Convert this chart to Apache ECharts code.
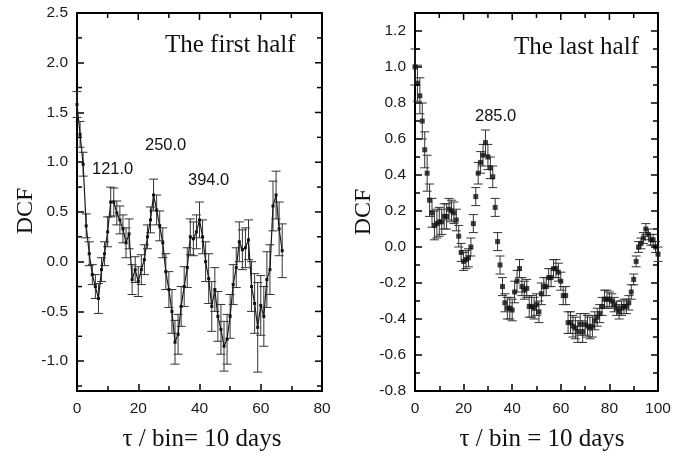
<!DOCTYPE html>
<html>
<head>
<meta charset="utf-8">
<script src="https://cdn.jsdelivr.net/npm/echarts@6/dist/echarts.min.js"></script>
<style>html,body{margin:0;padding:0;background:#fff}#c{width:694px;height:462px}</style>
</head>
<body>
<div id="c"></div>
<script>
// ---- Data: first half (lag in bins, DCF, error) ----
const firstTau = [0,1,2,3,4,5,6,7,8,9,10,11,12,13,14,15,16,17,18,19,20,21,22,23,24,25,26,27,28,29,30,31,32,33,34,35,36,37,38,39,40,41,42,43,44,45,46,47,48,49,50,51,52,53,54,55,56,57,58,59,60,61,62,63,64,65,66,67];
const firstDCF = [1.58,1.28,0.98,0.36,0.08,-0.13,-0.25,-0.37,-0.08,0.08,0.30,0.60,0.60,0.49,0.42,0.33,0.19,0.28,-0.18,-0.08,-0.20,-0.08,0.02,0.25,0.42,0.67,0.52,0.36,0.19,-0.10,-0.28,-0.50,-0.81,-0.73,-0.45,-0.25,-0.06,0.25,0.23,0.30,0.42,0.25,0.00,-0.17,-0.45,-0.28,-0.55,-0.68,-0.85,-0.78,-0.55,-0.23,-0.06,0.20,0.12,0.14,0.22,-0.25,-0.42,-0.66,-0.44,-0.55,-0.18,-0.08,0.56,0.67,0.33,0.11];
const firstErr = [0.13,0.13,0.12,0.12,0.12,0.10,0.12,0.15,0.12,0.12,0.15,0.15,0.14,0.12,0.14,0.14,0.15,0.15,0.15,0.13,0.15,0.15,0.15,0.12,0.13,0.16,0.15,0.15,0.15,0.18,0.18,0.22,0.22,0.20,0.20,0.20,0.20,0.18,0.17,0.17,0.18,0.17,0.20,0.25,0.25,0.22,0.25,0.25,0.25,0.25,0.22,0.20,0.20,0.20,0.20,0.20,0.20,0.25,0.30,0.45,0.30,0.30,0.28,0.25,0.25,0.24,0.27,0.27];

// ---- Data: last half ----
const lastTau = [0,1,2,3,4,5,6,7,8,9,10,11,12,13,14,15,16,17,18,19,20,21,22,23,24,25,26,27,28,29,30,31,32,33,34,35,36,37,38,39,40,41,42,43,44,45,46,47,48,49,50,51,52,53,54,55,56,57,58,59,60,61,62,63,64,65,66,67,68,69,70,71,72,73,74,75,76,77,78,79,80,81,82,83,84,85,86,87,88,89,90,91,92,93,94,95,96,97,98,99,100];
const lastDCF = [1.00,0.91,0.84,0.70,0.54,0.41,0.26,0.19,0.12,0.13,0.14,0.14,0.17,0.17,0.21,0.20,0.19,0.15,0.06,-0.03,-0.08,-0.07,-0.06,0.00,0.13,0.28,0.41,0.47,0.51,0.58,0.50,0.44,0.39,0.22,0.03,-0.10,-0.22,-0.31,-0.34,-0.34,-0.35,-0.25,-0.19,-0.12,-0.22,-0.24,-0.23,-0.33,-0.33,-0.34,-0.32,-0.36,-0.26,-0.22,-0.22,-0.17,-0.17,-0.12,-0.12,-0.14,-0.19,-0.27,-0.27,-0.42,-0.42,-0.44,-0.45,-0.47,-0.43,-0.47,-0.43,-0.44,-0.45,-0.44,-0.41,-0.39,-0.37,-0.33,-0.29,-0.29,-0.29,-0.30,-0.32,-0.34,-0.36,-0.34,-0.33,-0.33,-0.31,-0.25,-0.18,-0.08,0.00,0.02,0.05,0.10,0.07,0.04,0.04,0.00,-0.04];
const lastErr = [0.10,0.10,0.10,0.10,0.10,0.10,0.09,0.08,0.08,0.08,0.08,0.07,0.07,0.07,0.06,0.06,0.06,0.06,0.06,0.05,0.05,0.05,0.05,0.05,0.05,0.05,0.06,0.06,0.06,0.07,0.07,0.06,0.06,0.05,0.05,0.05,0.05,0.05,0.06,0.06,0.06,0.06,0.06,0.05,0.05,0.05,0.05,0.06,0.06,0.06,0.06,0.06,0.06,0.05,0.05,0.05,0.05,0.05,0.05,0.05,0.05,0.05,0.05,0.06,0.06,0.06,0.06,0.06,0.06,0.06,0.06,0.06,0.06,0.06,0.05,0.05,0.05,0.05,0.05,0.05,0.04,0.04,0.04,0.04,0.04,0.04,0.04,0.04,0.04,0.04,0.03,0.03,0.03,0.03,0.03,0.03,0.03,0.03,0.03,0.03,0.04];

// ---- Tick values ----
const firstYTicks = [-1.0,-0.5,0.0,0.5,1.0,1.5,2.0,2.5];
const firstYMinor = [-1.25,-0.75,-0.25,0.25,0.75,1.25,1.75,2.25];
const firstXTicks = [0,20,40,60,80];
const firstXMinor = [10,30,50,70];
const lastYTicks = [-0.8,-0.6,-0.4,-0.2,0.0,0.2,0.4,0.6,0.8,1.0,1.2];
const lastYMinor = [-0.7,-0.5,-0.3,-0.1,0.1,0.3,0.5,0.7,0.9,1.1];
const lastXTicks = [0,20,40,60,80,100];
const lastXMinor = [10,30,50,70,90];

const SANS = 'Liberation Sans, Arial, sans-serif';
const SERIF = 'Liberation Serif, Times New Roman, serif';
const TXT = '#1a1a1a';

function yAx(grid, ticks, min, max) {
  return {
    type: 'value', gridIndex: grid, position: 'left', min: min, max: max,
    axisLine: {show: false, onZero: false}, splitLine: {show: false},
    axisTick: {show: true, inside: true, length: 7, customValues: ticks, lineStyle: {color: '#000', width: 1.5}},
    axisLabel: {show: true, customValues: ticks, margin: 9, fontFamily: SANS, fontSize: 15.5, color: TXT,
      formatter: v => v.toFixed(1)}
  };
}
function xAx(grid, max) {
  return {
    type: 'value', gridIndex: grid, position: 'bottom', min: 0, max: max, interval: 20,
    axisLine: {show: false, onZero: false}, splitLine: {show: false},
    axisTick: {show: true, inside: true, length: 7, lineStyle: {color: '#000', width: 1.5}},
    minorTick: {show: true, splitNumber: 2, length: 5, lineStyle: {color: '#000', width: 1.5}},
    axisLabel: {show: true, margin: 10, fontFamily: SANS, fontSize: 15.5, color: TXT}
  };
}
// frame ticks on the other sides, positioned through the axis scales
function tickSeries(ai, dim, vals, len, sides, xmin, ymin) {
  return {
    type: 'custom', xAxisIndex: ai, yAxisIndex: ai, z: 5, silent: true, clip: false,
    data: vals.map(v => dim === 'y' ? [xmin, v] : [v, ymin]),
    renderItem: function (params, api) {
      const cs = params.coordSys;
      const p = api.coord([api.value(0), api.value(1)]);
      const st = {stroke: '#000', lineWidth: 1.5};
      const ch = [];
      sides.forEach(s => {
        if (s === 'left') ch.push({type: 'line', shape: {x1: cs.x, y1: p[1], x2: cs.x + len, y2: p[1]}, style: st});
        if (s === 'right') ch.push({type: 'line', shape: {x1: cs.x + cs.width, y1: p[1], x2: cs.x + cs.width - len, y2: p[1]}, style: st});
        if (s === 'top') ch.push({type: 'line', shape: {x1: p[0], y1: cs.y, x2: p[0], y2: cs.y + len}, style: st});
      });
      return {type: 'group', children: ch};
    }
  };
}
function errSeries(ai, tau, val, err, cap) {
  return {
    type: 'custom', xAxisIndex: ai, yAxisIndex: ai, z: 2,
    data: tau.map((t, i) => [t, val[i] - err[i], val[i] + err[i]]),
    encode: {x: 0, y: [1, 2]},
    renderItem: function (params, api) {
      const lo = api.coord([api.value(0), api.value(1)]);
      const hi = api.coord([api.value(0), api.value(2)]);
      const st = {stroke: '#333', lineWidth: 1};
      return {type: 'group', children: [
        {type: 'line', shape: {x1: lo[0], y1: lo[1], x2: hi[0], y2: hi[1]}, style: st},
        {type: 'line', shape: {x1: lo[0] - cap, y1: lo[1], x2: lo[0] + cap, y2: lo[1]}, style: st},
        {type: 'line', shape: {x1: hi[0] - cap, y1: hi[1], x2: hi[0] + cap, y2: hi[1]}, style: st}
      ]};
    }
  };
}
function txt(x, y, s, font, size) {
  return {type: 'text', x: x, y: y, z: 100,
    style: {text: s, fontFamily: font, fontSize: size, fill: '#111', align: 'left', verticalAlign: 'middle'}};
}

const chart = echarts.init(document.getElementById('c'), null, {renderer: 'canvas'});
chart.setOption({
  animation: false,
  backgroundColor: '#fff',
  grid: [
    {left: 77, top: 13, width: 245, height: 378, show: true, borderColor: '#000', borderWidth: 2, backgroundColor: 'transparent'},
    {left: 415, top: 13, width: 243, height: 378, show: true, borderColor: '#000', borderWidth: 2, backgroundColor: 'transparent'}
  ],
  xAxis: [xAx(0, 80), xAx(1, 100)],
  yAxis: [yAx(0, firstYTicks, -1.3, 2.5), yAx(1, lastYTicks, -0.8, 1.3)],
  series: [
    tickSeries(0, 'y', firstYTicks, 7, ['right'], 0, -1.3),
    tickSeries(0, 'y', firstYMinor, 5, ['left', 'right'], 0, -1.3),
    tickSeries(0, 'x', firstXTicks, 7, ['top'], 0, -1.3),
    tickSeries(0, 'x', firstXMinor, 5, ['top'], 0, -1.3),
    tickSeries(1, 'y', lastYTicks, 7, ['right'], 0, -0.8),
    tickSeries(1, 'y', lastYMinor, 5, ['left', 'right'], 0, -0.8),
    tickSeries(1, 'x', lastXTicks, 7, ['top'], 0, -0.8),
    tickSeries(1, 'x', lastXMinor, 5, ['top'], 0, -0.8),
    errSeries(0, firstTau, firstDCF, firstErr, 4.5),
    {type: 'line', xAxisIndex: 0, yAxisIndex: 0, z: 3, data: firstTau.map((t, i) => [t, firstDCF[i]]),
      symbol: 'rect', symbolSize: 3, showSymbol: true, itemStyle: {color: '#111'},
      lineStyle: {color: '#1a1a1a', width: 1.2}},
    errSeries(1, lastTau, lastDCF, lastErr, 4.5),
    {type: 'scatter', xAxisIndex: 1, yAxisIndex: 1, z: 3, data: lastTau.map((t, i) => [t, lastDCF[i]]),
      symbol: 'rect', symbolSize: 5, itemStyle: {color: '#111'}}
  ],
  graphic: [
    txt(165, 45, 'The first half', SERIF, 25),
    txt(514, 47, 'The last half', SERIF, 25),
    txt(92, 169, '121.0', SANS, 16.5),
    txt(145, 145, '250.0', SANS, 16.5),
    txt(188, 180, '394.0', SANS, 16.5),
    txt(475, 116, '285.0', SANS, 16.5),
    {type: 'text', x: 26, y: 211, rotation: Math.PI / 2, z: 100,
      style: {text: 'DCF', fontFamily: SERIF, fontSize: 24, fill: '#111', align: 'center', verticalAlign: 'middle'}},
    {type: 'text', x: 364, y: 212, rotation: Math.PI / 2, z: 100,
      style: {text: 'DCF', fontFamily: SERIF, fontSize: 24, fill: '#111', align: 'center', verticalAlign: 'middle'}},
    {type: 'text', x: 202, y: 439, z: 100,
      style: {text: 'τ / bin= 10 days', fontFamily: SERIF, fontSize: 25, fill: '#111', align: 'center', verticalAlign: 'middle'}},
    {type: 'text', x: 542, y: 439, z: 100,
      style: {text: 'τ / bin = 10 days', fontFamily: SERIF, fontSize: 25, fill: '#111', align: 'center', verticalAlign: 'middle'}}
  ]
});
</script>
</body>
</html>
